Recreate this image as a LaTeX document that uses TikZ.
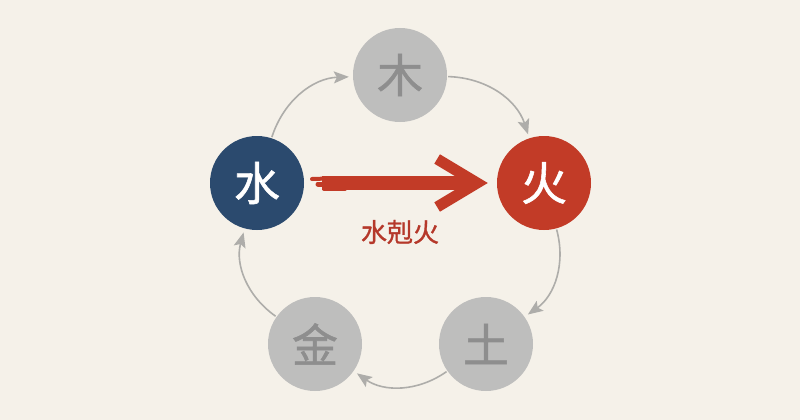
\documentclass[tikz,border=0pt]{standalone}
\usepackage{fontspec}
\newfontfamily\cjk{Noto Sans CJK SC}[FakeBold=1.2]
\usetikzlibrary{arrows.meta}
\definecolor{paper}{HTML}{F5F1E9}
\definecolor{ash}{HTML}{BEBEBD}
\definecolor{ashtext}{HTML}{8E8E8E}
\definecolor{ashline}{HTML}{AEADAA}
\definecolor{ink}{HTML}{2B4A6E}
\definecolor{cinnabar}{HTML}{C23B27}
\definecolor{redtext}{HTML}{B5382A}
\tikzset{
  elem/.style={circle, minimum size=94pt, inner sep=0pt, font=\cjk\fontsize{46}{46}\selectfont},
  dim/.style={elem, fill=ash, text=ashtext},
  cyc/.style={draw=ashline, line width=1.6pt, shorten <=1pt, shorten >=4pt,
    -{Stealth[length=15pt,width=12pt,inset=3pt]}},
  brush/.style={draw=cinnabar, line width=14pt, shorten <=18pt, shorten >=9pt,
    -{Straight Barb[length=40pt,width=48pt,line width=11pt]}},
  streak/.style={draw=cinnabar, line cap=round}
}
\begin{document}
\begin{tikzpicture}[x=1pt,y=-1pt]
			\fill[paper] (0,0) rectangle (800,420);
			\useasboundingbox (0,0) rectangle (800,420);
			
			% five elements
			\node[dim] (mu) at (400,75) {木}; % wood
			\node[elem, fill=cinnabar, text=white] (huo) at (544,183) {火}; % fire
			\node[dim] (tu) at (486,344) {土}; % earth
			\node[dim] (jin) at (315,344) {金}; % metal
			\node[elem, fill=ink, text=white] (shui) at (257,183) {水}; % water
			
			% DRAW CYCLE
			\path[cyc] (shui) to[bend left=35] (mu);
			\path[cyc] (mu) to[bend left=35] (huo);
			\path[cyc] (huo) to[bend left=35] (tu);
			\path[cyc] (tu) to[bend left=35] (jin);
			\path[cyc] (jin) to[bend left=35] (shui);
			
			% DRAW OVERCOMING
			\path[brush] (shui) -- (huo);
			\draw[streak, line width=4pt] (312,179) -- (345,178); \draw[streak, line width=5pt]
			(318,184) -- (345,184); \draw[streak, line width=4pt] (324,189) -- (345,189);
			\node[text=redtext, font=\cjk\fontsize{26}{26}\selectfont] (kill) at (400,232) {水剋火};
		\end{tikzpicture}
\end{document}
